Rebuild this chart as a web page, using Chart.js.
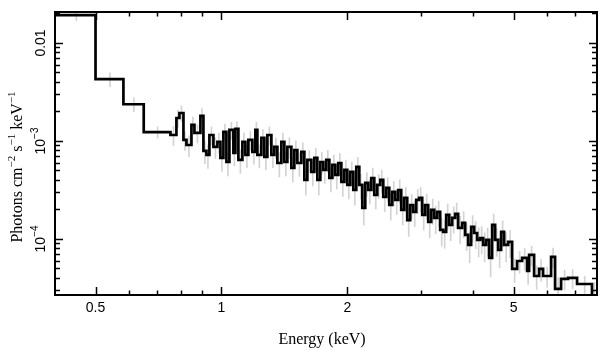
<!DOCTYPE html>
<html><head><meta charset="utf-8">
<script src="https://cdn.jsdelivr.net/npm/chart.js@4"></script>
<style>html,body{margin:0;padding:0;background:#fff}</style>
</head><body>
<canvas id="c" width="608" height="357"></canvas>
<script>
// Bin lower edges (keV), last upper edge, flux (photons cm^-2 s^-1 keV^-1), relative error
const energyLo = [
  0.40, 0.50, 0.583, 0.652, 0.7554, 0.7806, 0.7937, 0.8114, 0.8249, 0.8479,
  0.8620, 0.8909, 0.9057, 0.9209, 0.9361, 0.9570, 0.9782, 0.9945, 1.0111, 1.0279,
  1.0450, 1.0682, 1.0800, 1.0980, 1.1225, 1.1412, 1.1601, 1.1859, 1.2057, 1.2190,
  1.2462, 1.2669, 1.2880, 1.3167, 1.3386, 1.3609, 1.3912, 1.4143, 1.4379, 1.4699,
  1.4943, 1.5192, 1.5530, 1.5789, 1.6052, 1.6406, 1.6680, 1.6958, 1.7240, 1.7527,
  1.7819, 1.8116, 1.8418, 1.8724, 1.9036, 1.9353, 1.9676, 2.0000, 2.0333, 2.0672,
  2.1016, 2.1366, 2.1722, 2.2080, 2.2450, 2.2823, 2.3203, 2.3590, 2.3983, 2.4380,
  2.4787, 2.5199, 2.5619, 2.6046, 2.6480, 2.6915, 2.7363, 2.7819, 2.8282, 2.8753,
  2.9232, 2.9717, 3.0212, 3.0716, 3.1227, 3.1747, 3.2276, 3.2810, 3.3357, 3.3912,
  3.4473, 3.5047, 3.5631, 3.6224, 3.6827, 3.7647, 3.8273, 3.8910, 3.9558, 4.0216,
  4.0886, 4.1567, 4.2259, 4.2961, 4.3676, 4.4404, 4.5143, 4.5894, 4.6659, 4.7435,
  4.8491, 4.9569, 5.0952, 5.2373, 5.3834, 5.4428, 5.5946, 5.7506, 5.8785, 6.1430,
  6.2797, 6.4905, 6.7453, 7.0874, 7.6952
];
const energyEnd = 7.91;
const flux = [
  0.0192, 0.00427, 0.00237, 0.00123, 1.151e-3, 1.716e-3, 1.930e-3, 1.024e-3, 9.10e-4, 1.457e-3,
  1.207e-3, 1.799e-3, 7.91e-4, 7.20e-4, 1.151e-3, 8.69e-4, 9.77e-4, 6.71e-4, 1.236e-3, 6.10e-4,
  1.295e-3, 7.54e-4, 1.326e-3, 6.40e-4, 9.77e-4, 7.20e-4, 1.024e-3, 7.72e-4, 1.295e-3, 7.20e-4,
  1.073e-3, 6.87e-4, 1.151e-3, 7.20e-4, 8.69e-4, 5.96e-4, 9.77e-4, 6.10e-4, 8.69e-4, 5.30e-4,
  8.09e-4, 5.96e-4, 7.72e-4, 4.00e-4, 6.40e-4, 4.83e-4, 6.71e-4, 4.00e-4, 6.10e-4, 5.06e-4,
  6.40e-4, 4.19e-4, 5.69e-4, 4.50e-4, 5.96e-4, 3.82e-4, 5.06e-4, 3.56e-4, 4.83e-4, 3.16e-4,
  5.43e-4, 3.56e-4, 2.07e-4, 3.73e-4, 3.16e-4, 4.19e-4, 2.81e-4, 3.56e-4, 4.00e-4, 2.68e-4,
  3.32e-4, 2.22e-4, 3.02e-4, 2.50e-4, 3.16e-4, 1.98e-4, 2.62e-4, 1.56e-4, 2.22e-4, 1.89e-4,
  2.50e-4, 2.62e-4, 1.76e-4, 2.22e-4, 1.49e-4, 1.98e-4, 1.64e-4, 1.89e-4, 1.24e-4, 1.18e-4,
  1.76e-4, 1.39e-4, 1.64e-4, 1.80e-4, 1.30e-4, 1.46e-4, 1.10e-4, 8.69e-5, 1.33e-4, 1.15e-4,
  9.77e-5, 1.02e-4, 8.69e-5, 9.77e-5, 6.40e-5, 1.39e-4, 9.77e-5, 7.72e-5, 1.18e-4, 8.69e-5,
  9.32e-5, 4.94e-5, 5.96e-5, 6.40e-5, 4.72e-5, 6.87e-5, 4.19e-5, 4.94e-5, 4.19e-5, 6.55e-5,
  3.09e-5, 3.91e-5, 4.00e-5, 3.47e-5, 2.0e-5
];
const relErr = [
  0.12, 0.16, 0.16, 0.13, 0.22, 0.20, 0.18, 0.22, 0.24, 0.20,
  0.21, 0.19, 0.26, 0.27, 0.21, 0.24, 0.23, 0.27, 0.20, 0.28,
  0.20, 0.26, 0.19, 0.27, 0.23, 0.26, 0.22, 0.25, 0.20, 0.26,
  0.22, 0.26, 0.21, 0.26, 0.24, 0.28, 0.23, 0.28, 0.24, 0.28,
  0.24, 0.27, 0.24, 0.30, 0.25, 0.28, 0.25, 0.30, 0.25, 0.27,
  0.25, 0.28, 0.26, 0.28, 0.25, 0.29, 0.26, 0.28, 0.26, 0.30,
  0.25, 0.28, 0.33, 0.27, 0.28, 0.26, 0.28, 0.27, 0.26, 0.29,
  0.27, 0.30, 0.28, 0.29, 0.27, 0.30, 0.28, 0.32, 0.28, 0.29,
  0.28, 0.28, 0.30, 0.29, 0.31, 0.29, 0.31, 0.29, 0.32, 0.32,
  0.29, 0.31, 0.30, 0.29, 0.31, 0.30, 0.31, 0.34, 0.30, 0.31,
  0.33, 0.31, 0.33, 0.32, 0.36, 0.29, 0.32, 0.34, 0.30, 0.33,
  0.31, 0.27, 0.25, 0.25, 0.27, 0.23, 0.27, 0.25, 0.23, 0.23,
  0.30, 0.23, 0.22, 0.20, 0.80
];

const xRange = [0.4, 7.91];
const yRange = [2.68e-5, 0.0207];
const xMajorTicks = [0.5, 1, 2, 5];
const xTickLabels = ['0.5', '1', '2', '5'];
const xMinorTicks = [0.6, 0.7, 0.8, 0.9, 3, 4, 6, 7];
const yMajorTicks = [0.01, 1e-3, 1e-4];
const yTickLabels = [
  [{t: '0.01'}],
  [{t: '10'}, {t: '\u22123', sup: true}],
  [{t: '10'}, {t: '\u22124', sup: true}]
];
const yMinorTicks = [3e-5, 4e-5, 5e-5, 6e-5, 7e-5, 8e-5, 9e-5,
  2e-4, 3e-4, 4e-4, 5e-4, 6e-4, 7e-4, 8e-4, 9e-4,
  2e-3, 3e-3, 4e-3, 5e-3, 6e-3, 7e-3, 8e-3, 9e-3, 0.02];
const xTitle = [{t: 'Energy (keV)'}];
const yTitle = [{t: 'Photons cm'}, {t: '\u22122', sup: true}, {t: ' s'}, {t: '\u22121', sup: true},
  {t: ' keV'}, {t: '\u22121', sup: true}];

// Build datasets
const lineData = energyLo.map((e, i) => ({x: e, y: flux[i]}));
lineData.push({x: energyEnd, y: flux[flux.length - 1]});
const errData = energyLo.map((e, i) => {
  const hi = i + 1 < energyLo.length ? energyLo[i + 1] : energyEnd;
  return {x: (e + hi) / 2, y: [flux[i] * (1 - relErr[i]), flux[i] * (1 + relErr[i])]};
});

function drawRich(ctx, parts, size, family, supSize) {
  let w = 0;
  const widths = parts.map(p => {
    ctx.font = (p.sup ? supSize : size) + 'px ' + family;
    const m = ctx.measureText(p.t).width;
    w += m;
    return m;
  });
  let x = -w / 2;
  ctx.textAlign = 'left';
  ctx.textBaseline = 'middle';
  parts.forEach((p, i) => {
    ctx.font = (p.sup ? supSize : size) + 'px ' + family;
    ctx.fillText(p.t, x, p.sup ? -size * 0.38 : 0);
    x += widths[i];
  });
}

const framePlugin = {
  id: 'frame',
  afterDraw(chart) {
    const ctx = chart.ctx;
    const a = chart.chartArea;
    const xs = chart.scales.x, ys = chart.scales.y;
    ctx.save();
    ctx.strokeStyle = '#000';
    ctx.fillStyle = '#000';
    ctx.lineWidth = 2;
    ctx.strokeRect(a.left, a.top, a.right - a.left, a.bottom - a.top);
    ctx.lineWidth = 1.5;
    ctx.beginPath();
    const xt = (vals, len) => vals.forEach(v => {
      const px = Math.round(xs.getPixelForValue(v)) + 0.5;
      ctx.moveTo(px, a.bottom); ctx.lineTo(px, a.bottom - len);
      ctx.moveTo(px, a.top); ctx.lineTo(px, a.top + len);
    });
    const yt = (vals, len) => vals.forEach(v => {
      const py = Math.round(ys.getPixelForValue(v)) + 0.5;
      ctx.moveTo(a.left, py); ctx.lineTo(a.left + len, py);
      ctx.moveTo(a.right, py); ctx.lineTo(a.right - len, py);
    });
    xt(xMajorTicks, 8); xt(xMinorTicks, 4.5);
    yt(yMajorTicks, 8); yt(yMinorTicks, 5);
    ctx.stroke();

    // x tick labels
    xMajorTicks.forEach((v, i) => {
      ctx.save();
      ctx.translate(xs.getPixelForValue(v), a.bottom + 13);
      drawRich(ctx, [{t: xTickLabels[i]}], 14, '"Liberation Sans", Arial, sans-serif', 10);
      ctx.restore();
    });
    // y tick labels (rotated)
    yMajorTicks.forEach((v, i) => {
      ctx.save();
      ctx.translate(a.left - 14, ys.getPixelForValue(v));
      ctx.rotate(-Math.PI / 2);
      drawRich(ctx, yTickLabels[i], 14, '"Liberation Sans", Arial, sans-serif', 10);
      ctx.restore();
    });
    // titles
    ctx.save();
    ctx.translate(322, 340);
    drawRich(ctx, xTitle, 16, '"Liberation Serif", "Times New Roman", serif', 11);
    ctx.restore();
    ctx.save();
    ctx.translate(18, 167);
    ctx.rotate(-Math.PI / 2);
    drawRich(ctx, yTitle, 16, '"Liberation Serif", "Times New Roman", serif', 11);
    ctx.restore();
    ctx.restore();
  }
};

new Chart(document.getElementById('c'), {
  type: 'line',
  data: {
    datasets: [
      {
        type: 'line', data: lineData, stepped: true, borderColor: '#000', borderWidth: 2.7,
        pointRadius: 0, fill: false, order: 0, clip: 0
      },
      {
        type: 'bar', data: errData, backgroundColor: 'rgba(175,175,175,0.55)', borderWidth: 0,
        barThickness: 1, order: 1, clip: 0
      }
    ]
  },
  options: {
    responsive: false, animation: false, devicePixelRatio: 1,
    layout: {padding: {left: 55, right: 11, top: 12, bottom: 62}},
    scales: {
      x: {type: 'logarithmic', min: xRange[0], max: xRange[1], display: false, offset: false},
      y: {type: 'logarithmic', min: yRange[0], max: yRange[1], display: false}
    },
    plugins: {legend: {display: false}, tooltip: {enabled: false}}
  },
  plugins: [framePlugin]
});
</script>
</body></html>
